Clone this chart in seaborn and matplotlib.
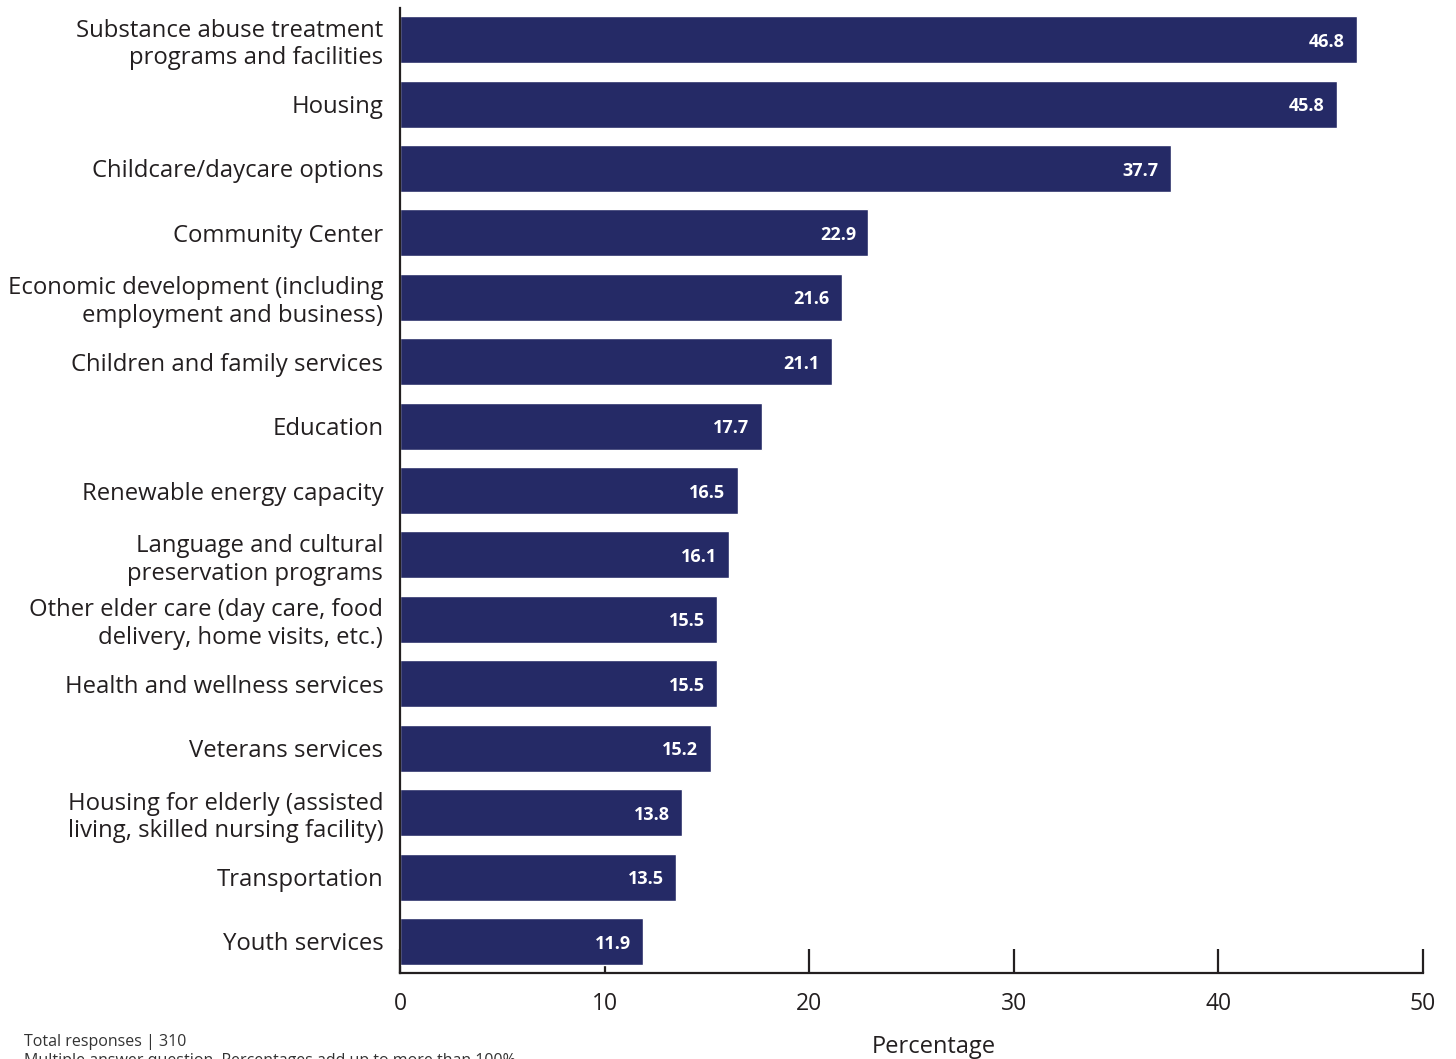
import matplotlib
matplotlib.use("Agg")
import matplotlib.pyplot as plt
import seaborn as sns
import pandas as pd

categories = [
    "Substance abuse treatment\nprograms and facilities",
    "Housing",
    "Childcare/daycare options",
    "Community Center",
    "Economic development (including\nemployment and business)",
    "Children and family services",
    "Education",
    "Renewable energy capacity",
    "Language and cultural\npreservation programs",
    "Other elder care (day care, food\ndelivery, home visits, etc.)",
    "Health and wellness services",
    "Veterans services",
    "Housing for elderly (assisted\nliving, skilled nursing facility)",
    "Transportation",
    "Youth services",
]
values = [46.8, 45.8, 37.7, 22.9, 21.6, 21.1, 17.7, 16.5, 16.1, 15.5, 15.5, 15.2, 13.8, 13.5, 11.9]
x_ticks = [0, 10, 20, 30, 40, 50]

df = pd.DataFrame({"category": categories, "value": values})

sns.set_theme(style="white")
plt.rcParams["font.family"] = ["Open Sans", "DejaVu Sans"]

bar_color = "#252a66"
text_color = "#231f20"

fig = plt.figure(figsize=(14.56, 10.59), dpi=100)
ax = fig.add_axes([0.2747, 0.0812, 0.7026, 0.9112])

sns.barplot(data=df, x="value", y="category", orient="h", color=bar_color,
            saturation=1, width=0.73, ax=ax)

for i, v in enumerate(values):
    ax.annotate(f"{v:.1f}", xy=(v, i), xytext=(-9, -1.5), textcoords="offset points",
                ha="right", va="center", color="white", fontsize=13, fontweight="bold")

ax.set_xlim(0, 50)
ax.set_ylim(14.49, -0.49)
ax.set_xticks(x_ticks)
ax.set_xticklabels([str(t) for t in x_ticks])
ax.tick_params(axis="x", bottom=True, direction="in", length=17, width=1.6, color=text_color,
               pad=14, labelsize=16.5, labelcolor=text_color)
ax.tick_params(axis="y", left=False, length=0, pad=12, labelsize=17.2, labelcolor=text_color)
for lab in ax.get_yticklabels():
    lab.set_horizontalalignment("right")
    lab.set_multialignment("right")

for side in ["top", "right"]:
    ax.spines[side].set_visible(False)
for side in ["left", "bottom"]:
    ax.spines[side].set_color(text_color)
    ax.spines[side].set_linewidth(1.6)

ax.set_ylabel("")
ax.set_xlabel("Percentage", fontsize=17, color=text_color)
ax.xaxis.set_label_coords(0.522, -0.064)

fig.text(24 / 1456, 1 - 1042 / 1059, "Total responses | 310", fontsize=11.5,
         color="#333333", va="center", ha="left")
fig.text(24 / 1456, 1 - 1061 / 1059, "Multiple answer question. Percentages add up to more than 100%",
         fontsize=11.5, color="#333333", va="center", ha="left")

fig.savefig("out.png", dpi=100)
plt.close(fig)
